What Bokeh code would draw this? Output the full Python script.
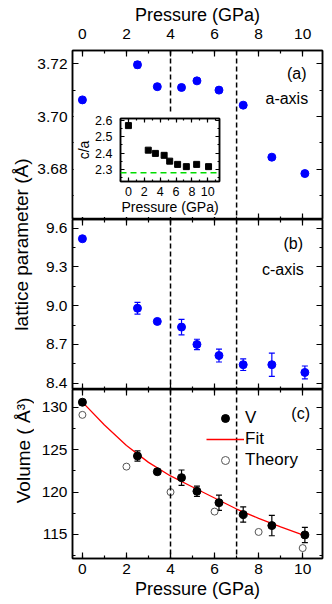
from math import pi
from bokeh.plotting import figure
from bokeh.models import (GridBox, Range1d, LinearAxis, SingleIntervalTicker, Span,
                          Whisker, ColumnDataSource, Label, TeeHead, Legend, LegendItem,
                          PrintfTickFormatter, CustomJSTickFormatter)
from bokeh.embed import file_html
from bokeh.resources import INLINE
from bokeh.core.properties import value

FONT = "Liberation Sans"

# ---------------- data ----------------
pressure = [0.0, 2.5, 3.4, 4.5, 5.2, 6.2, 7.3, 8.6, 10.1]
a_axis = [3.7063, 3.7196, 3.7113, 3.7110, 3.7135, 3.7100, 3.7043, 3.6846, 3.6784]
a_err = [0.0, 0.0012, 0.0, 0.0, 0.0, 0.0, 0.0, 0.0, 0.0]
c_axis = [9.518, 8.980, 8.878, 8.834, 8.700, 8.614, 8.543, 8.543, 8.483]
c_err = [0.0, 0.045, 0.0, 0.06, 0.04, 0.05, 0.045, 0.09, 0.05]
volume = [130.59, 124.25, 122.40, 121.70, 120.10, 118.75, 117.35, 116.05, 114.95]
v_err = [0.3, 0.6, 0.3, 0.9, 0.6, 0.9, 0.9, 1.2, 0.9]
ca_ratio = [2.570, 2.418, 2.398, 2.386, 2.350, 2.330, 2.316, 2.330, 2.316]
ca_reference = [2.278]
theory_pressure = [0, 2, 4, 6, 8, 10]
theory_volume = [129.1, 123.0, 120.0, 117.7, 115.3, 113.4]
fit_pressure = [0, 1, 2, 3, 4, 5, 6, 7, 8, 9, 10, 10.15]
fit_volume = [130.6, 127.9, 125.5, 123.5, 121.9, 120.6, 119.3, 118.0, 116.9, 115.9, 114.95, 114.8]
transition_pressures = [4, 7]

EMPTY = CustomJSTickFormatter(code="return '';")


def style_axis(ax, show, label_size="15.5px", standoff=6, tick_in=6, minor_in=3, fmt=None):
    ax.axis_line_color = "black"
    ax.axis_line_width = 1.5
    ax.major_tick_in = tick_in
    ax.major_tick_out = 0
    ax.minor_tick_in = minor_in
    ax.minor_tick_out = 0
    ax.major_tick_line_color = "black"
    ax.minor_tick_line_color = "black"
    ax.major_tick_line_width = 1.2
    ax.minor_tick_line_width = 1.2
    if show:
        ax.major_label_text_font = FONT
        ax.major_label_text_font_size = label_size
        ax.major_label_text_color = "black"
        ax.major_label_standoff = standoff
        if fmt is not None:
            ax.formatter = fmt
    else:
        ax.formatter = EMPTY
        ax.major_label_text_font_size = "2px"
        ax.major_label_standoff = 0


def set_title(ax, text, size, standoff):
    ax.axis_label = text
    ax.axis_label_text_font = FONT
    ax.axis_label_text_font_size = size
    ax.axis_label_text_font_style = "normal"
    ax.axis_label_text_color = "black"
    ax.axis_label_standoff = standoff


def add_axes(p, xticker, yticker, top_labels=False, bottom_labels=False, xlabel=None,
             label_size="15.5px", title_size="18px", standoff=6, ystandoff=6,
             tick_in=6, minor_in=3, title_standoff=2, yfmt=None, ylabel=None,
             ylabel_size="14px"):
    for loc in ("above", "below"):
        show = (loc == "above" and top_labels) or (loc == "below" and bottom_labels)
        ax = LinearAxis(ticker=xticker)
        style_axis(ax, show, label_size, standoff, tick_in, minor_in)
        if show and xlabel:
            set_title(ax, xlabel, title_size, title_standoff)
        p.add_layout(ax, loc)
    for loc in ("left", "right"):
        ax = LinearAxis(ticker=yticker)
        style_axis(ax, loc == "left", label_size, ystandoff, tick_in, minor_in, yfmt)
        if loc == "left" and ylabel:
            set_title(ax, ylabel, ylabel_size, 0)
        p.add_layout(ax, loc)


def base_fig(y_range, top, bottom, frame_h):
    p = figure(width=36 + 252 + 10, height=top + frame_h + bottom, x_range=x_range,
               y_range=y_range, x_axis_location=None, y_axis_location=None,
               toolbar_location=None, output_backend="svg", min_border_left=36,
               min_border_right=10, min_border_top=top, min_border_bottom=bottom)
    p.grid.visible = False
    p.outline_line_color = "black"
    p.outline_line_width = 1.5
    p.background_fill_color = "white"
    p.border_fill_color = "white"
    for xp in transition_pressures:
        p.add_layout(Span(location=xp, dimension="height", line_color="black",
                          line_dash="5 3", line_width=1.5))
    return p


def whisker(p, xs, ys, errs, color):
    src = ColumnDataSource(dict(x=xs, lower=[y - e for y, e in zip(ys, errs)],
                                upper=[y + e for y, e in zip(ys, errs)]))
    w = Whisker(base="x", lower="lower", upper="upper", source=src, line_color=color,
                line_width=1.2,
                upper_head=TeeHead(size=6, line_color=color, line_width=1.2),
                lower_head=TeeHead(size=6, line_color=color, line_width=1.2))
    p.add_layout(w)


def panel_label(p, x, y, text, size="16px"):
    p.add_layout(Label(x=x, y=y, text=text, text_font=FONT, text_font_size=size,
                       text_color="black", text_align="center", text_baseline="middle"))


x_range = Range1d(-0.45, 10.9)
xticker = SingleIntervalTicker(interval=2, num_minor_ticks=2)

# ---------------- panel (a) ----------------
p1 = base_fig(Range1d(3.661, 3.725), 50, 0, 169)
add_axes(p1, xticker, SingleIntervalTicker(interval=0.02, num_minor_ticks=2),
         top_labels=True, xlabel="Pressure (GPa)", standoff=12, title_standoff=1,
         ystandoff=5, yfmt=PrintfTickFormatter(format="%.2f"))
whisker(p1, pressure, a_axis, a_err, "blue")
p1.scatter(pressure, a_axis, size=8, color="blue")
panel_label(p1, 9.73, 3.7164, "(a)")
panel_label(p1, 9.28, 3.7068, "a-axis")

# ---------------- inset ----------------
inset = figure(width=151, height=105, x_range=Range1d(-1.0, 11.48),
               y_range=Range1d(2.224, 2.614), x_axis_location=None, y_axis_location=None,
               toolbar_location=None, output_backend="svg", min_border_left=42,
               min_border_right=5, min_border_top=6, min_border_bottom=33)
inset.grid.visible = False
inset.outline_line_color = "black"
inset.outline_line_width = 1.5
inset.background_fill_color = "white"
inset.border_fill_color = "white"
add_axes(inset, SingleIntervalTicker(interval=2, num_minor_ticks=2),
         SingleIntervalTicker(interval=0.1, num_minor_ticks=2), bottom_labels=True,
         xlabel="Pressure (GPa)", label_size="12.5px", title_size="14px", standoff=5,
         ystandoff=8, tick_in=4, minor_in=2, title_standoff=0,
         yfmt=PrintfTickFormatter(format="%.1f"), ylabel="c/a", ylabel_size="14px")
inset.add_layout(Span(location=ca_reference[0], dimension="width", line_color="#00DD00",
                      line_dash="6 4", line_width=1.5))
inset.scatter(pressure, ca_ratio, marker="square", size=6, color="black")

# ---------------- panel (b) ----------------
p2 = base_fig(Range1d(8.351, 9.667), 0, 0, 170)
add_axes(p2, xticker, SingleIntervalTicker(interval=0.3, num_minor_ticks=2),
         ystandoff=5, yfmt=PrintfTickFormatter(format="%.1f"))
whisker(p2, pressure, c_axis, c_err, "blue")
p2.scatter(pressure, c_axis, size=8, color="blue")
panel_label(p2, 9.57, 9.478, "(b)")
panel_label(p2, 9.10, 9.281, "c-axis")

# ---------------- panel (c) ----------------
p3 = base_fig(Range1d(112.17, 132.09), 0, 44, 169)
add_axes(p3, xticker, SingleIntervalTicker(interval=5, num_minor_ticks=2),
         bottom_labels=True, xlabel="Pressure (GPa)", standoff=5, title_standoff=2,
         ystandoff=5)
r_fit = p3.line(fit_pressure, fit_volume, color="red", line_width=1.3)
whisker(p3, pressure, volume, v_err, "black")
r_v = p3.scatter(pressure, volume, size=8, color="black")
r_th = p3.scatter(theory_pressure, theory_volume, size=7, fill_color="white",
                  line_color="#555555", line_width=1)
panel_label(p3, 9.91, 129.26, "(c)")
legend = Legend(items=[LegendItem(label="V", renderers=[r_v]),
                       LegendItem(label="Fit", renderers=[r_fit]),
                       LegendItem(label="Theory", renderers=[r_th])],
                location=(134, 88), glyph_width=38, glyph_height=20, label_height=20,
                spacing=1, padding=0, margin=0, label_standoff=1,
                border_line_color=None, background_fill_alpha=0,
                label_text_font=FONT, label_text_font_size="17px", label_text_color="black")
p3.add_layout(legend)

# ---------------- y titles strip ----------------
strip = figure(width=34, height=602, x_range=Range1d(0, 34), y_range=Range1d(602, 0),
               x_axis_location=None, y_axis_location=None, toolbar_location=None,
               output_backend="svg", min_border=0)
strip.grid.visible = False
strip.outline_line_color = None
strip.text(x=[21, 23], y=[230, 474], text=["lattice parameter (Å)", "Volume ( Å³)"],
           angle=pi / 2, text_font=value(FONT), text_font_size="19px", text_color="black",
           text_align="center", text_baseline="middle")

layout = GridBox(children=[(strip, 0, 0, 5, 1), (p1, 0, 1, 3, 3), (inset, 1, 2, 1, 1),
                           (p2, 3, 1, 1, 3), (p3, 4, 1, 1, 3)],
                 cols=["34px", "39px", "151px", "108px"],
                 rows=["112px", "105px", "2px", "170px", "213px"], spacing=0)

open("out.html", "w").write(file_html(layout, INLINE))
